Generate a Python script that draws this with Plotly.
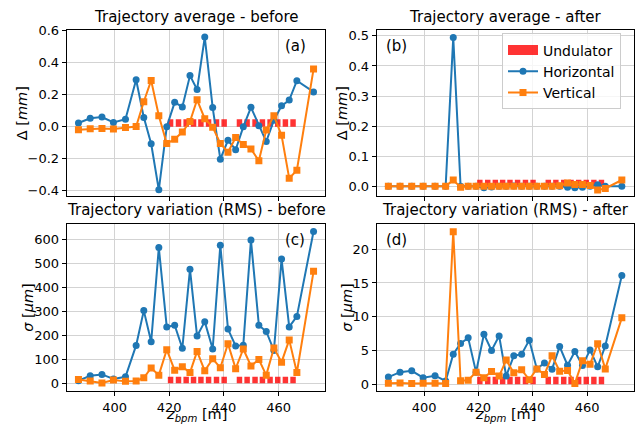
import plotly.graph_objects as go

# ---------------- data ----------------
z_bpm = [386.8, 391.1, 395.4, 399.6, 404.0, 407.9, 410.7, 413.4, 416.2, 419.1,
         422.0, 424.8, 427.6, 430.2, 433.0, 435.9, 438.7, 441.5, 444.3, 447.1,
         449.9, 452.8, 455.5, 458.3, 461.1, 463.9, 466.7, 472.8]

avg_before_h = [0.024, 0.053, 0.061, 0.027, 0.047, 0.294, 0.059, -0.106, -0.394, 0.0,
                0.153, 0.124, 0.320, 0.233, 0.561, 0.120, -0.202, -0.084, -0.143, 0.0,
                0.122, 0.006, -0.092, 0.041, 0.131, 0.167, 0.288, 0.218]
avg_before_v = [-0.018, -0.012, -0.010, -0.014, -0.004, 0.002, 0.157, 0.290, 0.069, -0.104,
                -0.078, -0.033, 0.033, 0.169, 0.051, -0.002, -0.104, -0.159, -0.067, -0.110,
                -0.139, -0.212, -0.020, 0.069, -0.053, -0.322, -0.271, 0.361]

avg_after_h = [0.0, 0.0, 0.0, 0.0, 0.0, 0.0, 0.495, 0.0, 0.0, 0.0,
               -0.005, -0.002, 0.0, 0.0, 0.001, 0.0, 0.0, 0.0, 0.0, 0.0,
               0.0, -0.003, -0.005, -0.003, 0.0, 0.005, 0.0, 0.0]
avg_after_v = [0.0, 0.0, 0.0, 0.0, 0.0, 0.0, 0.021, -0.003, 0.0, 0.0,
               0.0, 0.0, 0.0, 0.0, 0.0, 0.0, 0.0, 0.0, 0.0, 0.0,
               0.002, 0.011, 0.006, 0.006, 0.003, -0.012, -0.007, 0.021]

rms_before_h = [11, 31, 37, 18, 27, 158, 303, 173, 566, 235,
                242, 146, 475, 197, 257, 143, 576, 226, 156, 159,
                597, 242, 216, 137, 518, 235, 279, 633]
rms_before_v = [16, 10, 1, 14, 8, 10, 23, 64, 34, 140,
                54, 69, 45, 133, 52, 102, 65, 165, 61, 143,
                72, 99, 34, 147, 88, 181, 45, 467]

rms_after_h = [1.06, 1.79, 1.98, 0.97, 1.26, 0.48, 4.45, 6.05, 6.87, 1.79,
               7.41, 4.99, 7.16, 1.21, 4.21, 4.45, 6.53, 2.27, 3.15, 2.23,
               5.57, 2.81, 4.84, 2.76, 5.08, 2.57, 5.66, 16.1]
rms_after_v = [0.15, 0.19, 0.10, 0.15, 0.15, 0.10, 22.6, 0.53, 0.58, 1.79,
               0.97, 1.89, 1.21, 3.58, 1.69, 2.13, 0.68, 2.27, 1.45, 4.21,
               1.94, 2.03, 0.10, 3.48, 2.95, 6.00, 2.27, 9.83]

undulator_z = [420.5, 423.4, 426.2, 428.9, 431.6, 434.4, 437.3, 440.1,
               445.7, 448.5, 451.4, 454.1, 456.9, 459.7, 462.5, 465.3]
undulator_len = 2.0
undulator_mark = [0.048, 0.022, 27, 1.1]   # marker height per panel (a,b,c,d)

titles = ["Trajectory average - before", "Trajectory average - after",
          "Trajectory variation (RMS) - before", "Trajectory variation (RMS) - after"]
panel_tags = ["(a)", "(b)", "(c)", "(d)"]
x_ticks = [400, 420, 440, 460]

# ---------------- layout geometry (pixels) ----------------
W, H = 635, 428
FONT = "DejaVu Sans"
BLUE = "#1f77b4"
ORANGE = "#ff7f0e"
RED = "rgba(255,0,0,0.8)"

def px_x(p):
    return p / W

def px_y(p):
    return 1 - p / H

cols = [(66.7, 325.3), (376.7, 633.5)]
rows = [(24.0, 193.0), (221.7, 392.7)]

panels = [
    dict(data=(avg_before_h, avg_before_v), col=0, row=0, yr=[-0.432, 0.602],
         yt=[-0.4, -0.2, 0.0, 0.2, 0.4, 0.6], fmt=".1f", ylab="Δ [<i>mm</i>]",
         tag_x=295, ylab_x=22),
    dict(data=(avg_after_h, avg_after_v), col=1, row=0, yr=[-0.032, 0.518],
         yt=[0.0, 0.1, 0.2, 0.3, 0.4, 0.5], fmt=".1f", ylab="Δ [<i>mm</i>]",
         tag_x=396, ylab_x=342),
    dict(data=(rms_before_h, rms_before_v), col=0, row=1, yr=[-34, 664],
         yt=[0, 100, 200, 300, 400, 500, 600], fmt="d", ylab="<i>σ</i> [<i>μm</i>]",
         tag_x=295, ylab_x=28),
    dict(data=(rms_after_h, rms_after_v), col=1, row=1, yr=[-1.07, 23.73],
         yt=[0, 5, 10, 15, 20], fmt="d", ylab="<i>σ</i> [<i>μm</i>]",
         tag_x=396, ylab_x=347),
]

fig = go.Figure()
annotations = []
layout_axes = {}

# legend-only entry for the undulator (wide red block like the reference)
fig.add_trace(go.Scatter(
    x=[None], y=[None], mode="lines", name="Undulator",
    line=dict(color=RED, width=10), showlegend=True, xaxis="x2", yaxis="y2"))

for i, p in enumerate(panels):
    k = "" if i == 0 else str(i + 1)
    xa, ya = "x" + k, "y" + k
    x0, x1 = cols[p["col"]]
    y0, y1 = rows[p["row"]]
    show_leg = (i == 1)
    h, v = p["data"]

    fig.add_trace(go.Bar(
        x=undulator_z, y=[undulator_mark[i]] * len(undulator_z),
        width=undulator_len, marker=dict(color=RED, line=dict(width=0)),
        name="Undulator", showlegend=False,
        xaxis=xa, yaxis=ya))
    fig.add_trace(go.Scatter(
        x=z_bpm, y=h, mode="lines+markers", name="Horizontal",
        line=dict(color=BLUE, width=2), marker=dict(symbol="circle", size=7, color=BLUE),
        showlegend=show_leg, xaxis=xa, yaxis=ya))
    fig.add_trace(go.Scatter(
        x=z_bpm, y=v, mode="lines+markers", name="Vertical",
        line=dict(color=ORANGE, width=2), marker=dict(symbol="square", size=7, color=ORANGE),
        showlegend=show_leg, xaxis=xa, yaxis=ya))

    axis_common = dict(showline=True, mirror=True, linecolor="black", linewidth=1,
                       ticks="outside", ticklen=4, tickcolor="black", tickwidth=1,
                       showgrid=True, gridcolor="#d3d3d3", gridwidth=1,
                       zeroline=False,
                       tickfont=dict(family=FONT, size=13, color="black"))
    layout_axes["xaxis" + k] = dict(
        axis_common, domain=[px_x(x0), px_x(x1)], range=[382.5, 477.1],
        tickmode="array", tickvals=x_ticks, showticklabels=(p["row"] == 1),
        anchor=ya)
    layout_axes["yaxis" + k] = dict(
        axis_common, domain=[px_y(y1), px_y(y0)], range=p["yr"],
        tickmode="array", tickvals=p["yt"], tickformat=p["fmt"], anchor=xa)

    # subplot title
    annotations.append(dict(
        text=titles[i], x=px_x((x0 + x1) / 2), y=px_y(y0 - 3), xref="paper", yref="paper",
        xanchor="center", yanchor="bottom", showarrow=False,
        font=dict(family=FONT, size=15, color="black")))
    # panel tag
    annotations.append(dict(
        text=panel_tags[i], x=px_x(p["tag_x"]), y=px_y(y0 + 16), xref="paper", yref="paper",
        xanchor="center", yanchor="middle", showarrow=False,
        font=dict(family=FONT, size=15, color="black")))
    # y axis label
    annotations.append(dict(
        text=p["ylab"], x=px_x(p["ylab_x"]), y=px_y((y0 + y1) / 2), xref="paper", yref="paper",
        xanchor="center", yanchor="middle", textangle=-90, showarrow=False,
        font=dict(family=FONT, size=14.5, color="black")))
    # x axis label
    if p["row"] == 1:
        annotations.append(dict(
            text="<i>z</i><sub><i>bpm</i></sub> [m]", x=px_x((x0 + x1) / 2), y=px_y(428),
            xref="paper", yref="paper", xanchor="center", yanchor="bottom",
            showarrow=False, font=dict(family=FONT, size=14.5, color="black")))

fig.update_layout(
    width=W, height=H,
    margin=dict(l=0, r=0, t=0, b=0),
    paper_bgcolor="white", plot_bgcolor="white",
    font=dict(family=FONT, size=13, color="black"),
    showlegend=True,
    legend=dict(x=px_x(502), y=px_y(27), xanchor="left", yanchor="top",
                bgcolor="rgba(255,255,255,0.8)", bordercolor="#cccccc", borderwidth=1,
                font=dict(family=FONT, size=14, color="black"),
                traceorder="normal", tracegroupgap=0),
    annotations=annotations,
    **layout_axes,
)

fig.write_html("out.html", config={"displayModeBar": False},
               post_script="document.body.style.margin='0';document.body.style.overflow='hidden';")
